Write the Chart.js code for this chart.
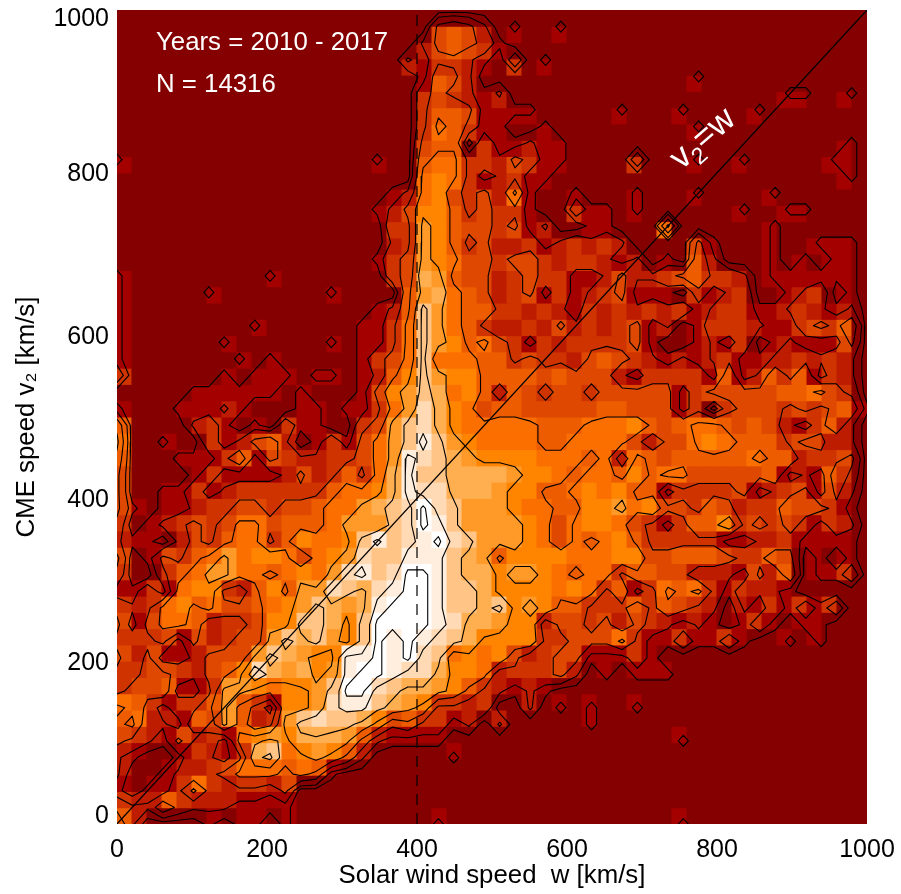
<!DOCTYPE html>
<html>
<head>
<meta charset="utf-8">
<script src="https://cdn.jsdelivr.net/npm/chart.js@4"></script>
<style>
  html, body { margin: 0; background: #fff; }
  canvas { display: block; }
</style>
</head>
<body>
<canvas id="heatChart" width="901" height="894"></canvas>
<script>
// binned occurrence level per 20 km/s cell, top row = 980-1000 km/s, 5 blocks of 10 columns
const cellRows = [
  "0000000000 0000000000 0000000000 0000000000 0000000000",
  "0000000000 0000000000 0454201001 0000000000 0000000000",
  "0000000000 0000000000 2454310000 0000000000 0000000000",
  "0000000000 0000000002 1332103010 0000000000 0000000000",
  "0000000000 0000000000 1542000000 0000000010 0000000000",
  "0000000000 0000000000 3432120000 0000000000 0000110010",
  "0000000000 0000000000 3554111100 0001000100 0010000000",
  "0000000000 0000000000 3653110010 0000000010 0000000000",
  "0000000000 0000000000 4550311211 0000000000 0000000010",
  "1000000000 0000000100 5663324311 0000300010 0100000110",
  "0000000000 0000000000 6763123110 0000000000 0000000010",
  "0000000000 0000000012 6743426100 1000100010 0001000000",
  "0000000000 0000000124 7753433100 3110100000 0100110000",
  "0000000000 0000000033 8754434120 0110006000 0001000000",
  "0000000000 0000000023 8753422312 3232000041 0001001110",
  "0000000000 0000000134 8764434432 3321201052 0001010110",
  "1000000000 1000000034 9854423433 1124223453 3201111110",
  "1000001000 0000100005 8965423413 1234111031 2300123010",
  "1000000000 0000000125 A865533232 1323232312 3311232120",
  "1000000001 0000001136 A865322324 2323412013 3321134350",
  "1000000100 0000101136 A875643132 3333410012 1301211140",
  "1000000010 1000001346 A666553433 2454321212 3112232320",
  "3000000101 1101101257 A877555545 4442133331 5125351320",
  "0000011111 1010001478 A967525434 4344444134 4444556430",
  "1000111210 0011011368 B976455444 4455444130 3444343451",
  "5000023101 031100348A B976666655 5666754566 5454213520",
  "6001003124 520131468A CA87666655 6666424467 6555344220",
  "5000111351 432233468C BA98777766 6562654555 5565523340",
  "4000013111 124235369C AA99998776 5665756644 4445121530",
  "4001131233 333356679C BB99987755 6767551333 3412341420",
  "4101123344 34456689AB DBA8887665 5778674435 4233544310",
  "3012343466 45556888AB DCA8888764 6776431355 7343431320",
  "2110243566 357667ACAB CDBA888764 6567533333 1122311110",
  "4014356867 764678BAAC CCA9857777 6667744555 4335401010",
  "3003568866 56768BCABD DCA9978876 5663554422 2142501130",
  "1131677325 7588BA9BCD DCAA977776 7635136563 1322100000",
  "3236756445 678A989CDD DCAA9A7875 5333535432 0213131300",
  "4146652334 77AA97ADDD DCB9987724 4342432121 0131011000",
  "3334142344 8A9A87ADCD CBA9777733 4446311311 3100101000",
  "4241124448 A9877CCDCD BA67674234 4111310000 0000000000",
  "334432457B 98978CDDCB B977623334 2010111000 0000000000",
  "3445113887 6778ADDBA9 9875321210 0000000000 0000000000",
  "6531335853 1778BCCA98 7332300201 0100100000 0000000000",
  "5622154852 38ABAA9745 3312020000 0100000000 0000000000",
  "4321423167 8799985211 1100000000 0000000100 0000000000",
  "2100132139 A678752000 0010000000 0000000000 0000000000",
  "2001223466 6565100000 0000000000 0000000000 0000000000",
  "1011363233 2400000000 0000000000 0000000000 0000000000",
  "3225322211 1100000000 0000000000 0000000000 0000000000",
  "5200001011 0100000000 0100000000 0000000100 0000000000"
];
const levelColors = ['#850000', '#A50000', '#BE1C00', '#CE3300', '#DE4800', '#EE5C00', '#FB6E00',
  '#FF8400', '#FF9A28', '#FFAE50', '#FFC486', '#FFDAB4', '#FFEEDD', '#FFFFFF'];
const contourLevels = [0.67, 1.75, 3.5, 5.5, 7.5, 9.5, 11.5, 12.7];
const binSize = 20;
const axisMax = 1000;
const diagonalLine = [0, 1000];
const referenceWind = 400;
const infoLines = ['Years = 2010 - 2017', 'N = 14316'];

const grid = cellRows.map(r => r.replace(/ /g, '').split('').map(ch => parseInt(ch, 16)));
grid.forEach((r, i) => { if (r.length !== 50) console.error('bad row', i, r.length); });
const nCols = 50, nRows = grid.length;

// one floating-bar dataset per row, cell colour comes from the level
const columnLabels = grid[0].map((_, c) => String(c * binSize));
const cellDatasets = grid.map((row, r) => {
  const lo = (nRows - 1 - r) * binSize;
  return {
    type: 'bar',
    xAxisID: 'xc',
    yAxisID: 'y',
    order: 5,
    data: row.map(() => [lo, lo + binSize]),
    backgroundColor: row.map(v => levelColors[v]),
    borderWidth: 0,
    inflateAmount: 0.5,
    barPercentage: 1,
    categoryPercentage: 1,
    grouped: false
  };
});

// marching squares over the same levels, IDL style: node i sits at i*1000/49
function nodeX(i) { return i * axisMax / (nCols - 1); }
function nodeY(r) { return (nRows - 1 - r) * axisMax / (nRows - 1); }

function contourPoints(level) {
  const pts = [];
  const edgePoint = (c, r, edge) => {
    const a = grid[r][c], b = grid[r][c + 1], d = grid[r + 1][c], e = grid[r + 1][c + 1];
    if (edge === 0) return { x: nodeX(c + (level - a) / (b - a)), y: nodeY(r) };
    if (edge === 1) return { x: nodeX(c + 1), y: nodeY(r + (level - b) / (e - b)) };
    if (edge === 2) return { x: nodeX(c + (level - d) / (e - d)), y: nodeY(r + 1) };
    return { x: nodeX(c), y: nodeY(r + (level - a) / (d - a)) };
  };
  const seg = (c, r, e1, e2) => {
    pts.push(edgePoint(c, r, e1), edgePoint(c, r, e2), { x: null, y: null });
  };
  for (let r = 0; r < nRows - 1; r++) {
    for (let c = 0; c < nCols - 1; c++) {
      const a = grid[r][c] > level, b = grid[r][c + 1] > level;
      const d = grid[r + 1][c] > level, e = grid[r + 1][c + 1] > level;
      const key = (a ? 8 : 0) + (b ? 4 : 0) + (e ? 2 : 0) + (d ? 1 : 0);
      const mid = (grid[r][c] + grid[r][c + 1] + grid[r + 1][c] + grid[r + 1][c + 1]) / 4 > level;
      switch (key) {
        case 1: case 14: seg(c, r, 3, 2); break;
        case 2: case 13: seg(c, r, 2, 1); break;
        case 3: case 12: seg(c, r, 3, 1); break;
        case 4: case 11: seg(c, r, 0, 1); break;
        case 6: case 9: seg(c, r, 0, 2); break;
        case 7: case 8: seg(c, r, 3, 0); break;
        case 5:
          if (mid) { seg(c, r, 3, 0); seg(c, r, 2, 1); } else { seg(c, r, 0, 1); seg(c, r, 3, 2); }
          break;
        case 10:
          if (mid) { seg(c, r, 0, 1); seg(c, r, 3, 2); } else { seg(c, r, 3, 0); seg(c, r, 2, 1); }
          break;
      }
    }
  }
  return pts;
}

const contourDatasets = contourLevels.map(level => ({
  type: 'scatter',
  xAxisID: 'x',
  yAxisID: 'y',
  order: 2,
  showLine: true,
  spanGaps: false,
  pointRadius: 0,
  borderColor: '#000',
  borderWidth: 1.1,
  borderCapStyle: 'round',
  data: contourPoints(level)
}));

const guideDatasets = [
  {
    type: 'scatter', xAxisID: 'x', yAxisID: 'y', order: 1, showLine: true, pointRadius: 0,
    borderColor: '#000', borderWidth: 1.2,
    data: diagonalLine.map(v => ({ x: v, y: v }))
  },
  {
    type: 'scatter', xAxisID: 'x', yAxisID: 'y', order: 1, showLine: true, pointRadius: 0,
    borderColor: '#000', borderWidth: 1.2, borderDash: [11, 8],
    data: [{ x: referenceWind, y: 0 }, { x: referenceWind, y: axisMax }]
  }
];

const textPlugin = {
  id: 'plotText',
  afterLayout(chart) {
    // first and last y labels sit inside the plot height
    const items = chart.scales.y.getLabelItems();
    items.forEach(it => { it.options.translation[1] += 1.5; });
    items[0].options.translation[1] -= 9;
    items[items.length - 1].options.translation[1] += 8;
  },
  afterDatasetsDraw(chart) {
    const { ctx, scales } = chart;
    ctx.save();
    ctx.fillStyle = '#fff';
    ctx.font = '25.8px "Liberation Sans"';
    ctx.textBaseline = 'middle';
    ctx.fillText(infoLines[0], scales.x.getPixelForValue(52), scales.y.getPixelForValue(960));
    ctx.fillText(infoLines[1], scales.x.getPixelForValue(52), scales.y.getPixelForValue(908));

    // v2=w label, pieces laid out along the rotated baseline
    ctx.translate(scales.x.getPixelForValue(781), scales.y.getPixelForValue(842));
    ctx.rotate(-41 * Math.PI / 180);
    ctx.textBaseline = 'alphabetic';
    const bigFont = '34px "Liberation Sans"', smallFont = '23px "Liberation Sans"';
    ctx.font = bigFont;
    const vw = ctx.measureText('v').width, eqw = ctx.measureText('=w').width;
    ctx.font = smallFont;
    const subw = ctx.measureText('2').width;
    let pos = -(vw + subw + eqw) / 2;
    ctx.font = bigFont;
    ctx.fillText('v', pos, 10);
    pos += vw;
    ctx.font = smallFont;
    ctx.fillText('2', pos, 18);
    pos += subw;
    ctx.font = bigFont;
    ctx.fillText('=w', pos, 10);
    ctx.restore();
  }
};

const ctx = document.getElementById('heatChart').getContext('2d');
new Chart(ctx, {
  type: 'bar',
  data: {
    labels: columnLabels,
    datasets: [...cellDatasets, ...contourDatasets, ...guideDatasets]
  },
  options: {
    responsive: false,
    animation: false,
    layout: { padding: { top: 10, right: 34, left: 0, bottom: 0 } },
    plugins: { legend: { display: false }, tooltip: { enabled: false } },
    scales: {
      xc: { type: 'category', display: false, offset: true, labels: columnLabels },
      x: {
        type: 'linear',
        position: 'bottom',
        offset: false,
        min: 0,
        max: axisMax,
        grid: { display: false },
        border: { display: false },
        afterFit: s => { s.height = 70; s.paddingLeft = 0; s.paddingRight = 0; },
        ticks: {
          stepSize: 200,
          maxRotation: 0,
          padding: 3,
          color: '#000',
          callback: v => String(v),
          font: { family: '"Liberation Sans"', size: 25 }
        },
        title: {
          display: true,
          text: 'Solar wind speed  w [km/s]',
          color: '#000',
          padding: { top: 1, bottom: 3 },
          font: { family: '"Liberation Sans"', size: 25.8 }
        }
      },
      y: {
        type: 'linear',
        min: 0,
        max: axisMax,
        grid: { display: false },
        border: { display: false },
        afterFit: s => { s.width = 117; s.paddingTop = 0; s.paddingBottom = 0; },
        ticks: {
          stepSize: 200,
          padding: 0,
          color: '#000',
          callback: v => String(v),
          font: { family: '"Liberation Sans"', size: 25 }
        },
        title: {
          display: true,
          text: 'CME speed v\u2082 [km/s]',
          color: '#000',
          padding: { top: 11, bottom: 0 },
          font: { family: '"Liberation Sans"', size: 25.8 }
        }
      }
    }
  },
  plugins: [textPlugin]
});
</script>
</body>
</html>
